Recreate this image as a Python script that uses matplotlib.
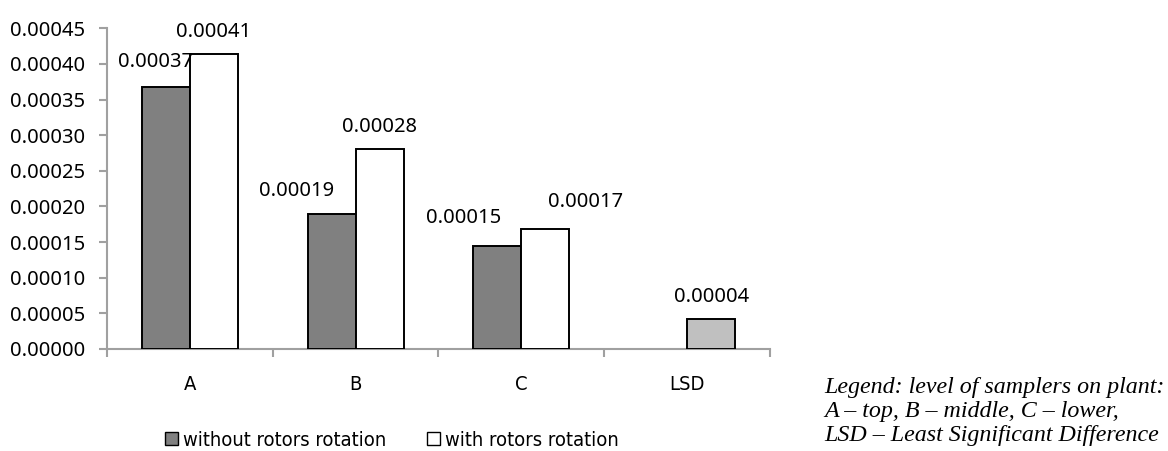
import matplotlib
matplotlib.use("Agg")
import matplotlib.pyplot as plt
import numpy as np
from matplotlib.patches import Patch

categories = ["A", "B", "C", "LSD"]
without_rot = [0.000367, 0.000190, 0.000145, np.nan]
with_rot = [0.000414, 0.000281, 0.000168, 0.000042]
label_without = ["0.00037", "0.00019", "0.00015", None]
label_with = ["0.00041", "0.00028", "0.00017", "0.00004"]
series_names = ["without rotors rotation", "with rotors rotation"]
yticks = [0.0, 0.00005, 0.0001, 0.00015, 0.0002, 0.00025, 0.0003, 0.00035, 0.0004, 0.00045]
note_lines = ["Legend: level of samplers on plant:",
              "A \u2013 top, B \u2013 middle, C \u2013 lower,",
              "LSD \u2013 Least Significant Difference"]

W, H = 1168, 451
fig = plt.figure(figsize=(W / 100, H / 100), dpi=100)
ax = fig.add_axes([107 / W, 102 / H, (770 - 107) / W, (349 - 28.3) / H])

num_font = ["Noto Sans", "DejaVu Sans"]
narrow_font = ["DejaVu Sans"]

x = np.arange(len(categories))
bw = 0.29
edge = dict(edgecolor="black", linewidth=1.4)
b1 = ax.bar(x - bw / 2, without_rot, bw, color="#808080", **edge, zorder=3)
with_colors = ["white", "white", "white", "#c0c0c0"]
b2 = ax.bar(x + bw / 2, with_rot, bw, color=with_colors, **edge, zorder=3)

off1 = [(-10, 25), (-35, 23), (-34, 28), None]
off2 = [(0, 22), (0, 22), (40, 27), (0, 22)]
for i in range(len(categories)):
    if label_without[i] is not None and not np.isnan(without_rot[i]):
        ax.annotate(label_without[i], (x[i] - bw / 2, without_rot[i]),
                    xytext=off1[i], textcoords="offset pixels",
                    ha="center", va="center", fontsize=14.5, family=num_font)
    ax.annotate(label_with[i], (x[i] + bw / 2, with_rot[i]),
                xytext=off2[i], textcoords="offset pixels",
                ha="center", va="center", fontsize=14.5, family=num_font)

ax.set_xlim(-0.5, len(categories) - 0.5)
ax.set_ylim(0, 0.00045)
ax.set_yticks(yticks)
ax.set_yticklabels([f"{v:.5f}" for v in yticks], family=num_font, fontsize=14.5)
ax.set_xticks(x)
ax.set_xticklabels(categories, family=narrow_font, fontstretch="condensed", fontsize=14.5)
ax.set_xticks(np.arange(-0.5, len(categories)), minor=True)
ax.tick_params(axis="x", which="major", length=0, pad=19)
ax.tick_params(axis="x", which="minor", length=6, width=1.5, color="#a0a0a0", direction="out")
ax.tick_params(axis="y", length=6, width=1.5, color="#a0a0a0", pad=10)

for s in ["top", "right"]:
    ax.spines[s].set_visible(False)
for s in ["left", "bottom"]:
    ax.spines[s].set_color("#a0a0a0")
    ax.spines[s].set_linewidth(1.5)

handles = [Patch(facecolor="#808080", edgecolor="black", linewidth=1.0),
           Patch(facecolor="white", edgecolor="black", linewidth=1.0)]
fig.legend(handles, series_names, loc="center", bbox_to_anchor=(392 / W, 1 - 440 / H),
           ncol=2, frameon=False,
           prop={"family": narrow_font, "size": 14.5, "stretch": "condensed"},
           handlelength=0.65, handleheight=0.65, handletextpad=0.25, columnspacing=2.0,
           borderaxespad=0, borderpad=0)

baselines = [393, 417, 441]
for line, yb in zip(note_lines, baselines):
    fig.text(824 / W, 1 - yb / H, line, ha="left", va="baseline",
             family=["Liberation Serif", "DejaVu Serif"], style="italic", fontsize=17.3)

fig.savefig("out.png", dpi=100)
